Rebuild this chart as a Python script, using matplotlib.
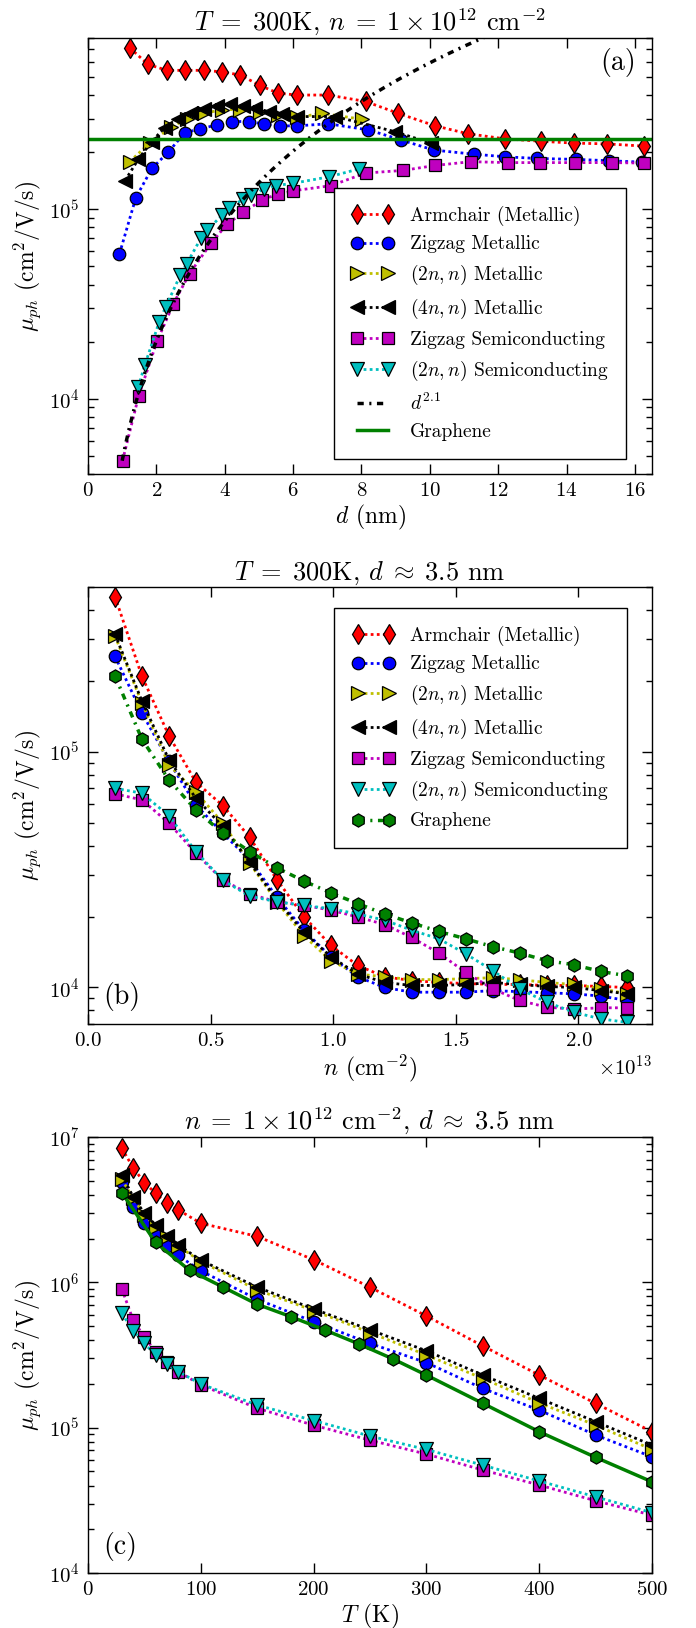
import numpy as np
import matplotlib
matplotlib.use('Agg')
import matplotlib.pyplot as plt
from matplotlib.ticker import LogLocator, NullFormatter, NullLocator, MultipleLocator

plt.rcParams['font.family'] = 'serif'
plt.rcParams['font.serif'] = ['cmr10']
plt.rcParams['mathtext.fontset'] = 'cm'
plt.rcParams['axes.formatter.use_mathtext'] = True
plt.rcParams['axes.unicode_minus'] = False

# ---------------- Panel (a): mobility vs diameter ----------------
d_arm = [1.22, 1.76, 2.31, 2.85, 3.39, 3.93, 4.46, 5.02, 5.55, 6.10, 7.03, 8.12,
         9.08, 10.16, 11.11, 12.19, 13.26, 14.22, 15.17, 16.27]
mu_arm = [7.1e5, 5.8e5, 5.4e5, 5.4e5, 5.4e5, 5.3e5, 5.1e5, 4.5e5, 4.1e5, 4.0e5, 4.0e5, 3.7e5,
          3.2e5, 2.75e5, 2.5e5, 2.35e5, 2.28e5, 2.23e5, 2.21e5, 2.15e5]

d_zzm = [0.92, 1.40, 1.87, 2.35, 2.83, 3.28, 3.76, 4.22, 4.70, 5.16, 5.63, 6.11, 7.03,
         8.20, 9.15, 10.11, 11.28, 12.19, 13.15, 14.29, 15.25, 16.2]
mu_zzm = [5.8e4, 1.15e5, 1.64e5, 2.0e5, 2.53e5, 2.65e5, 2.78e5, 2.9e5, 2.9e5, 2.81e5, 2.75e5,
          2.75e5, 2.82e5, 2.62e5, 2.32e5, 2.05e5, 1.95e5, 1.89e5, 1.85e5, 1.83e5, 1.80e5, 1.77e5]

d_2nm = [1.22, 1.80, 2.43, 2.89, 3.39, 3.93, 4.46, 5.02, 5.55, 6.10, 6.85, 8.02]
mu_2nm = [1.78e5, 2.23e5, 2.70e5, 3.0e5, 3.2e5, 3.35e5, 3.35e5, 3.25e5, 3.15e5, 3.05e5, 3.2e5, 2.98e5]

d_4nm = [1.08, 1.47, 1.86, 2.24, 2.63, 3.02, 3.39, 3.76, 4.14, 4.52, 4.90, 5.29, 5.68, 6.11,
         7.24, 8.99, 10.03]
mu_4nm = [1.41e5, 1.83e5, 2.27e5, 2.69e5, 2.98e5, 3.21e5, 3.37e5, 3.51e5, 3.58e5, 3.50e5, 3.41e5,
          3.27e5, 3.17e5, 3.08e5, 3.08e5, 2.56e5, 2.23e5]

d_zzs = [1.01, 1.48, 2.02, 2.50, 2.97, 3.60, 4.06, 4.54, 5.10, 5.55, 6.01, 7.11, 8.12, 9.21,
         10.16, 11.2, 12.28, 13.22, 14.25, 15.33, 16.27]
mu_zzs = [4.7e3, 1.03e4, 2.01e4, 3.17e4, 4.57e4, 6.6e4, 8.3e4, 9.6e4, 1.12e5, 1.20e5, 1.25e5,
          1.33e5, 1.55e5, 1.60e5, 1.70e5, 1.78e5, 1.76e5, 1.76e5, 1.76e5, 1.76e5, 1.75e5]

d_2ns = [1.47, 1.66, 2.08, 2.27, 2.70, 2.89, 3.30, 3.48, 3.93, 4.13, 4.54, 4.78, 5.16, 5.49,
         6.01, 7.05, 7.93]
mu_2ns = [1.15e4, 1.50e4, 2.53e4, 3.04e4, 4.48e4, 5.16e4, 7.0e4, 7.74e4, 9.3e4, 1.01e5, 1.13e5,
          1.18e5, 1.28e5, 1.33e5, 1.37e5, 1.48e5, 1.63e5]

mu_graphene_a = 2.34e5          # graphene reference level
fit_coeff = 4.7e3               # prefactor of d^2.1 guide
fit_exp = 2.1
d_fit_range = [1.0, 16.5]

# ---------------- Panel (b): mobility vs carrier density ----------------
n_b = [0.11e13, 0.22e13, 0.33e13, 0.44e13, 0.55e13, 0.66e13, 0.77e13, 0.88e13, 0.99e13, 1.10e13,
       1.21e13, 1.32e13, 1.43e13, 1.54e13, 1.65e13, 1.76e13, 1.87e13, 1.98e13, 2.09e13, 2.20e13]
arm_b = [4.55e5, 2.09e5, 1.17e5, 7.43e4, 5.91e4, 4.33e4, 2.87e4, 2.00e4, 1.51e4, 1.24e4,
         1.11e4, 1.07e4, 1.05e4, 1.04e4, 1.03e4, 1.03e4, 1.02e4, 1.02e4, 1.01e4, 1.0e4]
zzm_b = [2.54e5, 1.46e5, 9.1e4, 5.95e4, 4.51e4, 3.47e4, 2.42e4, 1.75e4, 1.35e4, 1.11e4,
         1.0e4, 9.55e3, 9.55e3, 9.55e3, 9.7e3, 9.6e3, 9.5e3, 9.4e3, 9.2e3, 8.8e3]
y2nm_b = [3.1e5, 1.61e5, 8.8e4, 6.75e4, 4.98e4, 3.36e4, 2.31e4, 1.66e4, 1.30e4, 1.14e4,
          1.11e4, 1.08e4, 1.08e4, 1.09e4, 1.10e4, 1.08e4, 1.05e4, 1.03e4, 9.9e3, 9.4e3]
k4nm_b = [3.15e5, 1.64e5, 9.25e4, 6.35e4, 4.82e4, 3.4e4, 2.35e4, 1.72e4, 1.35e4, 1.14e4,
          1.05e4, 1.02e4, 1.02e4, 1.03e4, 1.05e4, 1.03e4, 1.01e4, 1.0e4, 9.7e3, 9.4e3]
zzs_b = [6.63e4, 6.25e4, 4.98e4, 3.71e4, 2.85e4, 2.49e4, 2.31e4, 2.23e4, 2.13e4, 1.99e4,
         1.85e4, 1.63e4, 1.40e4, 1.16e4, 9.87e3, 8.81e3, 8.25e3, 8.1e3, 8.2e3, 8.2e3]
s2n_b = [7.0e4, 6.67e4, 5.35e4, 3.77e4, 2.85e4, 2.44e4, 2.31e4, 2.23e4, 2.16e4, 2.05e4,
         1.93e4, 1.75e4, 1.61e4, 1.39e4, 1.18e4, 9.87e3, 8.67e3, 7.86e3, 7.36e3, 7.11e3]
gr_b = [2.1e5, 1.13e5, 7.6e4, 5.66e4, 4.51e4, 3.77e4, 3.22e4, 2.83e4, 2.52e4, 2.27e4,
        2.05e4, 1.88e4, 1.73e4, 1.61e4, 1.49e4, 1.40e4, 1.30e4, 1.25e4, 1.17e4, 1.12e4]

# ---------------- Panel (c): mobility vs temperature ----------------
T_c = [30, 40, 50, 60, 70, 80, 100, 150, 200, 250, 300, 350, 400, 450, 500]
arm_c = [8.36e6, 6.15e6, 4.85e6, 4.1e6, 3.5e6, 3.15e6, 2.55e6, 2.07e6, 1.43e6, 9.26e5,
         5.87e5, 3.65e5, 2.30e5, 1.47e5, 9.38e4]
zzm_c = [4.93e6, 3.32e6, 2.55e6, 2.12e6, 1.79e6, 1.53e6, 1.20e6, 7.64e5, 5.36e5, 3.80e5,
         2.80e5, 1.86e5, 1.32e5, 8.9e4, 6.3e4]
y2nm_c = [5.12e6, 3.79e6, 2.91e6, 2.42e6, 2.04e6, 1.78e6, 1.39e6, 8.87e5, 6.39e5, 4.51e5,
          3.16e5, 2.18e5, 1.48e5, 1.04e5, 7.08e4]
k4nm_c = [5.47e6, 3.88e6, 2.98e6, 2.48e6, 2.10e6, 1.81e6, 1.42e6, 9.26e5, 6.56e5, 4.71e5,
          3.38e5, 2.30e5, 1.59e5, 1.10e5, 7.59e4]
zzs_c = [9.0e5, 5.51e5, 4.19e5, 3.34e5, 2.85e5, 2.43e5, 1.97e5, 1.36e5, 1.04e5, 8.2e4,
         6.58e4, 5.11e4, 4.03e4, 3.14e4, 2.50e4]
s2n_c = [6.12e5, 4.65e5, 3.80e5, 3.16e5, 2.74e5, 2.43e5, 2.0e5, 1.43e5, 1.12e5, 8.75e4,
         7.08e4, 5.52e4, 4.30e4, 3.34e4, 2.6e4]
T_gr = [30, 60, 90, 120, 150, 180, 210, 240, 270, 300, 350, 400, 450, 500]
gr_c = [4.14e6, 1.88e6, 1.21e6, 9.25e5, 7.06e5, 5.8e5, 4.70e5, 3.77e5, 2.98e5, 2.30e5,
        1.47e5, 9.38e4, 6.25e4, 4.24e4]

labels = {
    'arm': 'Armchair (Metallic)',
    'zzm': 'Zigzag Metallic',
    '2nm': r'$(2n,n)$ Metallic',
    '4nm': r'$(4n,n)$ Metallic',
    'zzs': 'Zigzag Semiconducting',
    '2ns': r'$(2n,n)$ Semiconducting',
    'gr': 'Graphene',
}

styles = {
    'arm': dict(color='r', marker='d', ms=10),
    'zzm': dict(color='b', marker='o', ms=9),
    '2nm': dict(color='y', marker='>', ms=9.5),
    '4nm': dict(color='k', marker='<', ms=9.5),
    'zzs': dict(color='m', marker='s', ms=8.5),
    '2ns': dict(color='c', marker='v', ms=9.5),
    'gr': dict(color='g', marker='h', ms=9.5),
}

DOT = (0, (1.0, 1.2))
DASHDOT = (0, (1.8, 1.6, 0.6, 1.6))


def series(ax, x, y, key, ls=DOT, lw=2.0):
    st = styles[key]
    ax.plot(x, y, linestyle=ls, lw=lw, color=st['color'], marker=st['marker'],
            ms=st['ms'], mfc=st['color'], mec='k', mew=0.9, label=labels[key])


def style_axes(ax):
    ax.set_yscale('log')
    ax.tick_params(which='both', direction='in', top=True, right=True)
    ax.tick_params(which='major', length=7, width=1.0, labelsize=15, pad=6)
    ax.tick_params(which='minor', length=4, width=1.0)
    ax.yaxis.set_minor_locator(LogLocator(base=10, subs=np.arange(2, 10)))
    ax.yaxis.set_minor_formatter(NullFormatter())
    ax.xaxis.set_minor_locator(NullLocator())
    for s in ax.spines.values():
        s.set_linewidth(1.0)


fig = plt.figure(figsize=(6.96, 16.28), dpi=100)
W, H = 696.0, 1628.0
L, R = 88.0, 652.0
ax_a = fig.add_axes([L / W, 1 - 474 / H, (R - L) / W, 436 / H])
ax_b = fig.add_axes([L / W, 1 - 1024 / H, (R - L) / W, 437 / H])
ax_c = fig.add_axes([L / W, 1 - 1573 / H, (R - L) / W, 436 / H])

leg_kw = dict(fontsize=14, numpoints=2, handlelength=2.2, handletextpad=0.8,
              labelspacing=0.5, borderpad=0.9, fancybox=False, framealpha=1.0,
              edgecolor='k')

# ----- (a)
ax = ax_a
series(ax, d_arm, mu_arm, 'arm')
series(ax, d_zzm, mu_zzm, 'zzm')
series(ax, d_2nm, mu_2nm, '2nm')
series(ax, d_4nm, mu_4nm, '4nm')
series(ax, d_zzs, mu_zzs, 'zzs')
series(ax, d_2ns, mu_2ns, '2ns')
d_fit = np.linspace(d_fit_range[0], d_fit_range[1], 300)
ax.plot(d_fit, fit_coeff * d_fit ** fit_exp, color='k', ls=DASHDOT, lw=2.5, label=r'$d^{2.1}$')
ax.axhline(mu_graphene_a, color='g', lw=2.5, label='Graphene')
style_axes(ax)
ax.set_xlim(0, 16.5)
ax.set_ylim(4e3, 8e5)
ax.xaxis.set_major_locator(MultipleLocator(2))
ax.set_title(r'$T\;=\;300$K, $n\;=\;1\times10^{12}$ cm$^{-2}$', fontsize=19, pad=5)
ax.set_xlabel(r'$d$ (nm)', fontsize=17, labelpad=2)
ax.set_ylabel(r'$\mu_{ph}$ (cm$^2$/V/s)', fontsize=17)
ax.text(0.972, 0.943, '(a)', transform=ax.transAxes, fontsize=20, ha='right', va='center')
ax.legend(loc='upper left', bbox_to_anchor=(0.436, 0.656), borderaxespad=0, **leg_kw)

# ----- (b)
ax = ax_b
series(ax, n_b, arm_b, 'arm')
series(ax, n_b, zzm_b, 'zzm')
series(ax, n_b, y2nm_b, '2nm')
series(ax, n_b, k4nm_b, '4nm')
series(ax, n_b, zzs_b, 'zzs')
series(ax, n_b, s2n_b, '2ns')
series(ax, n_b, gr_b, 'gr', ls=DASHDOT, lw=2.5)
style_axes(ax)
ax.set_xlim(0, 2.3e13)
ax.set_ylim(7e3, 5e5)
ax.xaxis.set_major_locator(MultipleLocator(0.5e13))
ax.xaxis.get_offset_text().set_fontsize(15)
ax.set_title(r'$T\;=\;300$K, $d\;\approx\;3.5$ nm', fontsize=19, pad=5)
ax.set_xlabel(r'$n$ (cm$^{-2}$)', fontsize=17, labelpad=2)
ax.set_ylabel(r'$\mu_{ph}$ (cm$^2$/V/s)', fontsize=17)
ax.text(0.027, 0.062, '(b)', transform=ax.transAxes, fontsize=20, ha='left', va='center')
ax.legend(loc='upper left', bbox_to_anchor=(0.437, 0.952), borderaxespad=0, **leg_kw)

# ----- (c)
ax = ax_c
series(ax, T_c, arm_c, 'arm')
series(ax, T_c, zzm_c, 'zzm')
series(ax, T_c, y2nm_c, '2nm')
series(ax, T_c, k4nm_c, '4nm')
series(ax, T_c, zzs_c, 'zzs')
series(ax, T_c, s2n_c, '2ns')
series(ax, T_gr, gr_c, 'gr', ls='-', lw=2.5)
style_axes(ax)
ax.set_xlim(0, 500)
ax.set_ylim(1e4, 1e7)
ax.xaxis.set_major_locator(MultipleLocator(100))
ax.set_title(r'$n\;=\;1\times10^{12}$ cm$^{-2}$, $d\;\approx\;3.5$ nm', fontsize=19, pad=5)
ax.set_xlabel(r'$T$ (K)', fontsize=17, labelpad=2)
ax.set_ylabel(r'$\mu_{ph}$ (cm$^2$/V/s)', fontsize=17)
ax.text(0.027, 0.06, '(c)', transform=ax.transAxes, fontsize=20, ha='left', va='center')

fig.savefig('out.png', dpi=100)
